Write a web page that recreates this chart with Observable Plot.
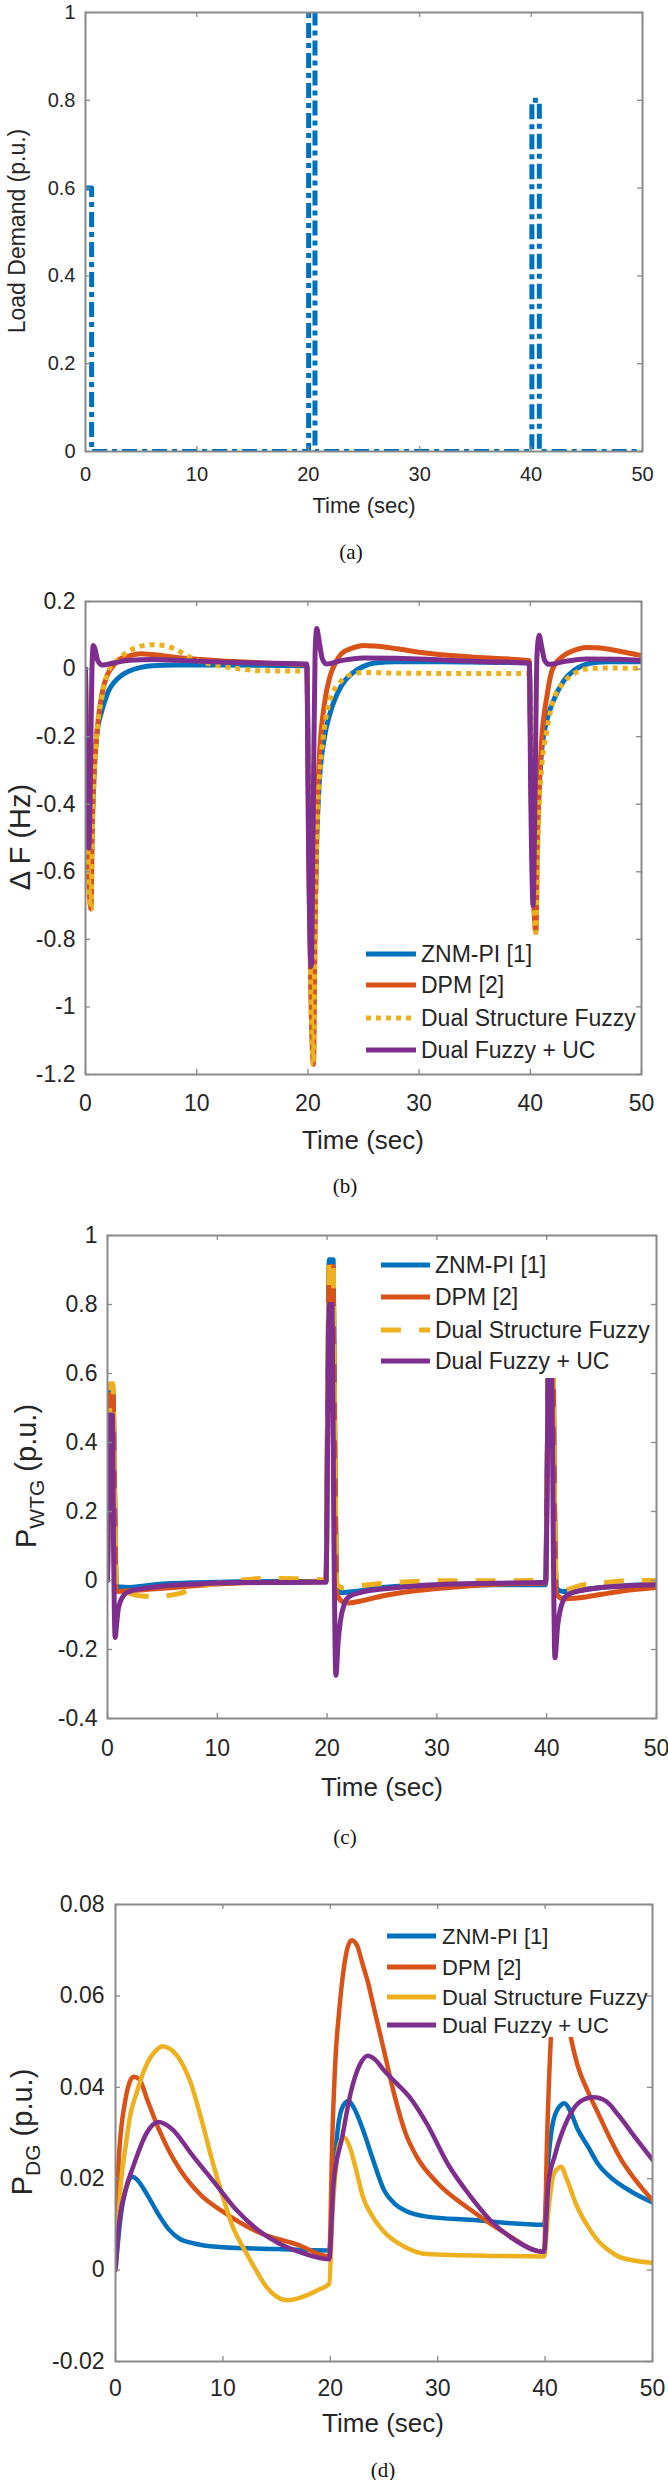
<!DOCTYPE html>
<html><head><meta charset="utf-8">
<script src="https://cdn.jsdelivr.net/npm/d3@7"></script>
<script src="https://cdn.jsdelivr.net/npm/@observablehq/plot@0.6"></script>
<style>
body{margin:0;background:#fff;}
#root{position:relative;width:668px;height:2480px;overflow:hidden;background:#fff;}
.panel{position:absolute;left:0;}
.cap{position:absolute;font-family:"Liberation Serif","Times New Roman",serif;font-size:21px;color:#111;transform:translate(-50%,-50%);white-space:nowrap;}
</style></head><body><div id="root"></div>
<script>
// ---------- shared ----------
const xTicks = [0, 10, 20, 30, 40, 50];
const seriesNames = ["ZNM-PI [1]", "DPM [2]", "Dual Structure Fuzzy", "Dual Fuzzy + UC"];
const seriesColors = ["#0072BD", "#D95319", "#EDB120", "#7E2F8E"];
const captions = ["(a)", "(b)", "(c)", "(d)"];

// ---------- (a) load demand ----------
const yTicksA = [0, 0.2, 0.4, 0.6, 0.8, 1];
const loadDemand = [[0,0.6],[0.55,0.6],[0.55,0],[20.03,0],[20.03,1],[20.6,1],[20.6,0],[40.07,0],[40.07,0.8],[40.74,0.8],[40.74,0],[50,0]];

// ---------- (b) frequency deviation ----------
const yTicksB = [-1.2, -1, -0.8, -0.6, -0.4, -0.2, 0, 0.2];
const dfZNM = [[0,0],[0.15,-0.45],[0.45,-0.66],[0.6,-0.45],[0.8,-0.28],[1,-0.2],[1.5,-0.12],[2,-0.07],[3,-0.025],[4,-0.005],[5,0.005],[6,0.01],[8,0.012],[12,0.012],[16,0.011],[19.9,0.01],
  [20.1,-0.5],[20.45,-1.1],[20.6,-0.8],[20.8,-0.5],[21,-0.35],[21.5,-0.2],[22,-0.13],[23,-0.05],[24,-0.012],[25,0.008],[26,0.018],[28,0.022],[32,0.022],[36,0.02],[39.9,0.018],
  [40.1,-0.35],[40.4,-0.72],[40.6,-0.5],[40.8,-0.35],[41,-0.25],[41.5,-0.15],[42,-0.1],[43,-0.035],[44,-0.002],[45,0.014],[46,0.02],[47,0.022],[50,0.022]];
const dfDPM = [[0,0],[0.15,-0.45],[0.5,-0.71],[0.6,-0.5],[0.8,-0.3],[1,-0.2],[1.5,-0.07],[2,-0.015],[2.5,0.01],[3,0.028],[4,0.04],[5,0.045],[6,0.043],[8,0.035],[12,0.025],[16,0.018],[19.9,0.012],
  [20.1,-0.6],[20.5,-1.17],[20.65,-0.75],[20.8,-0.45],[21,-0.28],[21.5,-0.1],[22,-0.02],[22.5,0.02],[23,0.045],[24,0.062],[25,0.07],[26,0.068],[28,0.06],[30,0.05],[35,0.035],[39.9,0.025],
  [40.1,-0.4],[40.5,-0.78],[40.65,-0.5],[40.8,-0.35],[41,-0.22],[41.5,-0.08],[42,0.0],[43,0.04],[44,0.056],[45,0.064],[46,0.063],[48,0.053],[50,0.04]];
const dfDSF = [[0,0],[0.15,-0.45],[0.5,-0.71],[0.6,-0.5],[0.8,-0.3],[1,-0.2],[1.5,-0.08],[2,-0.01],[3,0.03],[4,0.055],[5,0.068],[6,0.072],[7,0.07],[8,0.06],[9,0.042],[10,0.026],[12,0.01],[14,0.0],[16,-0.005],[19.9,-0.006],
  [20.1,-0.6],[20.5,-1.17],[20.65,-0.75],[20.8,-0.5],[21,-0.35],[21.5,-0.17],[22,-0.09],[23,-0.035],[24,-0.015],[25,-0.01],[28,-0.012],[34,-0.013],[39.9,-0.013],
  [40.1,-0.4],[40.5,-0.78],[40.65,-0.55],[40.8,-0.4],[41,-0.3],[41.5,-0.18],[42,-0.1],[43,-0.04],[44,-0.012],[45,0.0],[47,0.003],[50,0.002]];
const dfUC = [[0,0],[0.08,-0.4],[0.3,-0.53],[0.45,-0.3],[0.58,0.0],[0.7,0.07],[0.85,0.06],[1.1,0.025],[1.5,0.012],[2.5,0.018],[4,0.026],[6,0.028],[9,0.025],[13,0.02],[17,0.017],[19.9,0.015],
  [20.05,-0.5],[20.3,-0.88],[20.5,-0.35],[20.65,0.05],[20.8,0.12],[21,0.085],[21.3,0.03],[21.7,0.015],[23,0.025],[25,0.033],[28,0.032],[32,0.027],[36,0.022],[39.9,0.018],
  [40.05,-0.4],[40.25,-0.7],[40.45,-0.3],[40.6,0.04],[40.8,0.1],[41,0.07],[41.3,0.025],[41.7,0.014],[43,0.022],[45,0.03],[48,0.029],[50,0.025]];

// ---------- (c) wind turbine power ----------
const yTicksC = [-0.4, -0.2, 0, 0.2, 0.4, 0.6, 0.8, 1];
const pwZNM = [[0,0],[0.1,0.3],[0.25,0.55],[0.5,0.55],[0.65,0.25],[0.8,-0.01],[1,-0.018],[2,-0.02],[5,-0.01],[10,-0.005],[15,-0.003],[19.9,-0.003],
  [20.05,0.5],[20.2,0.93],[20.55,0.93],[20.7,0.4],[20.9,-0.025],[21.2,-0.035],[23,-0.03],[25,-0.02],[30,-0.013],[39.9,-0.012],
  [40.05,0.35],[40.2,0.75],[40.55,0.75],[40.7,0.25],[40.9,-0.025],[41.5,-0.032],[45,-0.02],[50,-0.01]];
const pwDPM = [[0,0],[0.1,0.3],[0.25,0.54],[0.5,0.54],[0.65,0.25],[0.8,-0.03],[1,-0.032],[2,-0.03],[4,-0.025],[6,-0.02],[10,-0.01],[15,-0.005],[19.9,-0.003],
  [20.05,0.5],[20.2,0.91],[20.55,0.91],[20.7,0.4],[20.9,-0.04],[21.5,-0.063],[22,-0.065],[23,-0.06],[25,-0.045],[28,-0.03],[32,-0.018],[36,-0.01],[39.9,-0.007],
  [40.05,0.35],[40.2,0.73],[40.55,0.73],[40.7,0.25],[40.9,-0.04],[41.5,-0.053],[43,-0.05],[45,-0.04],[47,-0.03],[50,-0.02]];
const pwDSF = [[0,0],[0.1,0.3],[0.25,0.57],[0.5,0.57],[0.65,0.25],[0.8,-0.02],[1,-0.03],[2,-0.038],[3.5,-0.046],[5,-0.045],[6.5,-0.038],[8,-0.022],[10,-0.008],[12,0.0],[14,0.006],[18,0.005],[19.9,0.002],
  [20.05,0.5],[20.2,0.93],[20.55,0.93],[20.7,0.4],[20.9,-0.01],[21.5,-0.022],[23,-0.015],[26,-0.006],[30,-0.001],[39.9,0.0],
  [40.05,0.35],[40.2,0.75],[40.55,0.75],[40.7,0.25],[40.9,-0.01],[41.5,-0.028],[43,-0.015],[45,-0.007],[48,0.0],[50,0.0]];
const pwUC = [[0,0],[0.1,0.3],[0.2,0.48],[0.45,0.48],[0.55,0.1],[0.7,-0.165],[0.85,-0.12],[1,-0.08],[1.5,-0.042],[2,-0.032],[4,-0.02],[8,-0.01],[12,-0.006],[19.9,-0.005],
  [20.05,0.4],[20.2,0.8],[20.45,0.8],[20.6,0.2],[20.8,-0.275],[21,-0.18],[21.2,-0.12],[21.6,-0.065],[22,-0.047],[23,-0.035],[25,-0.025],[30,-0.012],[35,-0.008],[39.9,-0.005],
  [40.05,0.3],[40.15,0.65],[40.45,0.65],[40.6,0.1],[40.75,-0.224],[41,-0.13],[41.2,-0.09],[41.6,-0.052],[42,-0.04],[43,-0.03],[45,-0.02],[50,-0.012]];

// ---------- (d) diesel generator power ----------
const yTicksD = [-0.02, 0, 0.02, 0.04, 0.06, 0.08];
const pdZNM = [[0,0],[0.5,0.012],[1,0.018],[1.6,0.0204],[2,0.0198],[3,0.0163],[4,0.0122],[5,0.0088],[6,0.0068],[7,0.006],[8,0.0055],[10,0.005],[15,0.0046],[19.9,0.0043],
  [20.3,0.02],[20.7,0.031],[21.2,0.036],[21.7,0.037],[22.2,0.0355],[23,0.031],[24,0.024],[25,0.0175],[26,0.0145],[27,0.013],[29,0.0117],[33,0.011],[39.9,0.0099],
  [40.3,0.024],[40.8,0.033],[41.5,0.0362],[41.8,0.0365],[42.3,0.035],[43,0.031],[44,0.027],[45,0.023],[46,0.0205],[48,0.0172],[50,0.0148]];
const pdDPM = [[0,0],[0.3,0.024],[0.9,0.037],[1.3,0.041],[1.7,0.0423],[2.2,0.0418],[3,0.037],[4,0.031],[5,0.026],[6,0.022],[8,0.0163],[10,0.0128],[13.2,0.0084],[17,0.0055],[19.9,0.003],
  [20.2,0.03],[20.5,0.047],[20.8,0.056],[21.2,0.065],[21.6,0.0705],[22,0.0722],[22.5,0.071],[23,0.067],[23.5,0.063],[24,0.058],[25,0.048],[26,0.038],[27,0.03],[28,0.025],[30,0.019],[33,0.0133],[36,0.0085],[39.9,0.004],
  [40.2,0.03],[40.6,0.053],[41.2,0.062],[41.7,0.06],[42.3,0.052],[43,0.045],[44,0.039],[45,0.034],[46,0.029],[47,0.0245],[48,0.021],[49,0.018],[50,0.0153]];
const pdDSF = [[0,0],[0.5,0.019],[1,0.028],[1.3,0.033],[2,0.039],[2.5,0.0427],[3,0.0455],[3.6,0.0476],[4.4,0.049],[5,0.0485],[6,0.046],[7,0.041],[8,0.033],[9,0.024],[10,0.016],[11,0.009],[12,0.0045],[13,0.0003],[14,-0.0035],[15,-0.0058],[16,-0.0066],[17,-0.0062],[18,-0.0053],[19,-0.0042],[19.9,-0.003],
  [20.2,0.012],[20.6,0.024],[21,0.0285],[21.3,0.029],[21.8,0.027],[22.5,0.021],[23,0.0163],[24,0.0115],[25,0.0084],[27,0.005],[29,0.0035],[35,0.0031],[39.9,0.003],
  [40.3,0.013],[40.8,0.021],[41.5,0.0226],[42,0.02],[42.9,0.0143],[44,0.0095],[44.9,0.0065],[46,0.0042],[46.8,0.003],[48,0.0022],[50,0.0016]];
const pdUC = [[0,0],[0.3,0.0094],[0.9,0.0172],[1.7,0.023],[2.9,0.03],[4,0.0324],[5.2,0.031],[7.2,0.025],[9.2,0.0192],[11.2,0.0133],[13.2,0.0089],[15.1,0.006],[17.1,0.004],[19.9,0.0024],
  [20.3,0.019],[21.1,0.029],[21.9,0.0388],[22.7,0.0447],[23.5,0.0469],[24.2,0.046],[25,0.0437],[26.2,0.0408],[27.4,0.0378],[29,0.032],[31,0.023],[33,0.0163],[34.9,0.0109],[36.9,0.007],[39.9,0.004],
  [40.3,0.019],[40.9,0.025],[42.1,0.033],[43.3,0.0369],[44.5,0.0378],[45.7,0.0369],[46.8,0.034],[48.4,0.029],[50,0.0241]];

// ---------- helpers ----------
const AX = "#8a8a8a", TXT = "#262626";
const FONT = "'Liberation Sans', Arial, Helvetica, sans-serif";
const fmt = d => String(Math.round(d * 1000) / 1000);
const root = document.getElementById("root");

function drawPanel(cfg) {
  const W = 668;
  const innerW = W - cfg.ml - cfg.mr, innerH = cfg.height - cfg.mt - cfg.mb;
  const [ylo, yhi] = cfg.yDomain;
  const ty = 5 * (yhi - ylo) / innerH, tx = 5 * 50 / innerW;
  const marks = [];
  cfg.series.forEach(s => marks.push(Plot.line(s.data, {
    x: d => d[0], y: d => d[1], stroke: s.color, strokeWidth: s.width,
    strokeDasharray: s.dash || null, strokeLinecap: s.dash ? "butt" : "round",
    strokeLinejoin: "round", curve: s.curve || "linear", clip: true
  })));
  marks.push(Plot.ruleX(xTicks, {x: d => d, y1: ylo, y2: ylo + ty, stroke: AX, strokeWidth: 1.3}));
  marks.push(Plot.ruleX(xTicks, {x: d => d, y1: yhi, y2: yhi - ty, stroke: AX, strokeWidth: 1.3}));
  marks.push(Plot.ruleY(cfg.yTicks, {y: d => d, x1: 0, x2: tx, stroke: AX, strokeWidth: 1.3}));
  marks.push(Plot.ruleY(cfg.yTicks, {y: d => d, x1: 50, x2: 50 - tx, stroke: AX, strokeWidth: 1.3}));
  marks.push(Plot.frame({stroke: AX, strokeWidth: 2}));
  marks.push(Plot.axisX({ticks: xTicks, tickSize: 0, tickPadding: cfg.xPad, tickFormat: fmt, label: null, fontSize: cfg.tickFont, fill: TXT}));
  marks.push(Plot.axisY({ticks: cfg.yTicks, tickSize: 0, tickPadding: cfg.yPad, tickFormat: fmt, label: null, fontSize: cfg.tickFont, fill: TXT}));
  const svg = Plot.plot({
    width: W, height: cfg.height,
    marginTop: cfg.mt, marginBottom: cfg.mb, marginLeft: cfg.ml, marginRight: cfg.mr,
    x: {domain: [0, 50]}, y: {domain: cfg.yDomain},
    style: {fontFamily: FONT, fontSize: cfg.tickFont + "px", color: TXT, background: "transparent", overflow: "visible"},
    marks
  });
  const sel = d3.select(svg);
  const top = cfg.top;
  // legend
  if (cfg.legend) {
    const L = cfg.legend;
    const g = sel.append("g");
    g.append("rect").attr("x", L.box[0]).attr("y", L.box[1] - top)
      .attr("width", L.box[2] - L.box[0]).attr("height", L.box[3] - L.box[1]).attr("fill", "#fff");
    cfg.series.forEach((s, i) => {
      const y = L.ys[i] - top;
      g.append("line").attr("x1", L.x1).attr("x2", L.x2).attr("y1", y).attr("y2", y)
        .attr("stroke", s.color).attr("stroke-width", 5)
        .attr("stroke-dasharray", s.dash || null);
      g.append("text").attr("x", L.tx).attr("y", y).attr("dy", "0.36em")
        .attr("text-anchor", "start")
        .attr("fill", TXT).style("font-family", FONT).style("font-size", L.font + "px")
        .text(seriesNames[i]);
    });
  }
  // x label
  sel.append("text").attr("x", cfg.xl[0]).attr("y", cfg.xl[1] - top).attr("dy", "0.36em")
    .attr("text-anchor", "middle").attr("fill", TXT)
    .style("font-family", FONT).style("font-size", cfg.xl[2] + "px").text("Time (sec)");
  // y label
  const yl = cfg.yl;
  const t = sel.append("text").attr("transform", `translate(${yl.x},${yl.y - top}) rotate(-90)`)
    .attr("text-anchor", "middle").attr("fill", TXT)
    .style("font-family", FONT).style("font-size", yl.size + "px");
  if (yl.sub) {
    t.append("tspan").text(yl.main);
    t.append("tspan").attr("dy", yl.shift).style("font-size", yl.subSize + "px").text(yl.sub);
    t.append("tspan").attr("dy", -yl.shift).text(yl.rest);
  } else {
    t.text(yl.main);
  }
  const div = document.createElement("div");
  div.className = "panel";
  div.style.top = top + "px";
  div.appendChild(svg);
  root.appendChild(div);
  // caption
  const c = document.createElement("div");
  c.className = "cap";
  c.style.left = cfg.cap[0] + "px";
  c.style.top = cfg.cap[1] + "px";
  c.textContent = cfg.cap[2];
  root.appendChild(c);
}

const mk = (data, i, width, dash, curve) => ({data, color: seriesColors[i], width, dash, curve});

// (a)
drawPanel({
  top: 0, height: 530, mt: 12, mb: 79, ml: 85, mr: 26,
  yDomain: [0, 1], yTicks: yTicksA, tickFont: 20, xPad: 15, yPad: 10,
  series: [{data: loadDemand, color: seriesColors[0], width: 5, dash: "15,5,5,5", curve: "linear"}],
  xl: [364, 505, 22],
  yl: {x: 25, y: 231, size: 23, main: "Load Demand (p.u.)"},
  cap: [351, 552, captions[0]]
});

// (b)
drawPanel({
  top: 560, height: 600, mt: 41, mb: 86, ml: 85, mr: 27,
  yDomain: [-1.2, 0.2], yTicks: yTicksB, tickFont: 23, xPad: 20, yPad: 10,
  series: [mk(dfZNM, 0, 5, null, "monotone-x"), mk(dfDPM, 1, 5, null, "monotone-x"),
           mk(dfDSF, 2, 5, "5,5", "monotone-x"), mk(dfUC, 3, 5, null, "monotone-x")],
  legend: {box: [360, 938, 630, 1066], x1: 366, x2: 416, tx: 421, ys: [954, 985, 1018, 1050], font: 23},
  xl: [363, 1140, 26],
  yl: {x: 30, y: 837, size: 29, main: "\u0394 F (Hz)"},
  cap: [345, 1186, captions[1]]
});

// (c)
drawPanel({
  top: 1200, height: 610, mt: 35, mb: 92, ml: 107, mr: 12,
  yDomain: [-0.4, 1], yTicks: yTicksC, tickFont: 23, xPad: 21, yPad: 10,
  series: [mk(pwZNM, 0, 5, null, "monotone-x"), mk(pwDPM, 1, 5, null, "monotone-x"),
           mk(pwDSF, 2, 5, "20,18", "monotone-x"), mk(pwUC, 3, 5, null, "monotone-x")],
  legend: {box: [375, 1245, 650, 1378], x1: 381, x2: 430, tx: 435, ys: [1265, 1297, 1330, 1361], font: 23},
  xl: [382, 1787, 26],
  yl: {x: 36, y: 1476, size: 29, main: "P", sub: "WTG", subSize: 21, shift: 8, rest: " (p.u.)"},
  cap: [345, 1837, captions[2]]
});

// (d)
drawPanel({
  top: 1860, height: 600, mt: 44, mb: 99, ml: 115, mr: 16,
  yDomain: [-0.02, 0.08], yTicks: yTicksD, tickFont: 23, xPad: 18, yPad: 11,
  series: [mk(pdZNM, 0, 4.5, null, "monotone-x"), mk(pdDPM, 1, 4.5, null, "monotone-x"),
           mk(pdDSF, 2, 4.5, null, "monotone-x"), mk(pdUC, 3, 4.5, null, "monotone-x")],
  legend: {box: [383, 1921, 645, 2037], x1: 387, x2: 436, tx: 442, ys: [1936, 1967, 1997, 2025], font: 22},
  xl: [383, 2423, 26],
  yl: {x: 32, y: 2132, size: 29, main: "P", sub: "DG", subSize: 21, shift: 8, rest: " (p.u.)"},
  cap: [383, 2470, captions[3]]
});
</script>
</body></html>
